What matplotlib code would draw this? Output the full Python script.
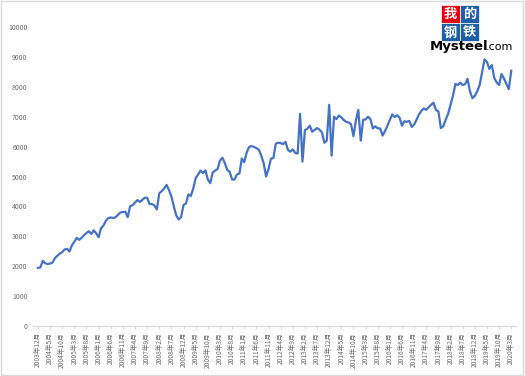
import numpy as np
import pandas as pd
import matplotlib
matplotlib.use('Agg')
import matplotlib.pyplot as plt
from matplotlib.patches import Rectangle

plt.rcParams['font.family'] = ['Noto Sans CJK SC', 'DejaVu Sans']

# 月度价格 2003年12月 - 2020年3月
start_month = '2003-12'
end_month = '2020-03'
values = [
    1940, 1960, 2180, 2100, 2070, 2090, 2120, 2270, 2350, 2420,
    2470, 2560, 2580, 2490, 2700, 2820, 2950, 2880, 2950, 3040,
    3110, 3170, 3080, 3200, 3100, 2970, 3270, 3360, 3520, 3610,
    3630, 3610, 3640, 3720, 3800, 3810, 3820, 3640, 4010, 4040,
    4130, 4210, 4150, 4220, 4290, 4290, 4080, 4080, 4030, 3900,
    4440, 4510, 4600, 4720, 4550, 4330, 4000, 3700, 3560, 3650,
    4050, 4100, 4400, 4350, 4600, 4950, 5070, 5200, 5110, 5210,
    4900, 4780, 5130, 5200, 5250, 5530, 5630, 5450, 5220, 5160,
    4900, 4900, 5070, 5100, 5600, 5480, 5800, 5990, 6020, 5990,
    5950, 5900, 5700, 5450, 5000, 5250, 5600, 5620, 6100, 6130,
    6120, 6080, 6160, 5890, 5830, 5910, 5790, 5770, 7100, 5500,
    6550, 6600, 6700, 6500, 6560, 6620, 6570, 6480, 6130, 6200,
    7400, 5700, 7000, 6920, 7040, 6980, 6890, 6830, 6810, 6750,
    6350, 6870, 7230, 6200, 6900, 6910, 7000, 6920, 6610, 6680,
    6610, 6610, 6370, 6520, 6700, 6900, 7080, 6990, 7050, 6970,
    6700, 6850, 6830, 6860, 6660, 6740, 6900, 7080, 7200, 7280,
    7230, 7320, 7400, 7470, 7220, 7180, 6620, 6680, 6900, 7100,
    7400, 7700, 8100, 8060, 8140, 8060, 8090, 8270, 7850, 7620,
    7700, 7850, 8060, 8500, 8920, 8830, 8600, 8730, 8300, 8150,
    8060, 8430, 8280, 8100, 7920, 8540,
]
y_ticks = [0, 1000, 2000, 3000, 4000, 5000, 6000, 7000, 8000, 9000, 10000]
label_step = 5

months = pd.period_range(start_month, end_month, freq='M')
labels = ['%d年%d月' % (m.year, m.month) for m in months]
x = np.arange(len(values))

fig = plt.figure(figsize=(5.25, 3.76), dpi=100)
ax = fig.add_axes([0.063, 0.133, 0.92, 0.795])

ax.plot(x, values, color='#4472C4', linewidth=1.6)

ax.set_ylim(0, 10000)
ax.set_xlim(-2, len(values) + 1)
ax.set_yticks(y_ticks)
ax.set_yticklabels([str(v) for v in y_ticks], fontsize=5, color='#6b6b6b')
tick_pos = x[::label_step]
ax.set_xticks(tick_pos)
ax.set_xticklabels([labels[i] for i in tick_pos], rotation=90, fontsize=4.8, color='#6b6b6b')

for s in ['top', 'right', 'left']:
    ax.spines[s].set_visible(False)
ax.spines['bottom'].set_color('#d9d9d9')
ax.spines['bottom'].set_linewidth(0.8)
ax.tick_params(axis='y', length=0, pad=4)
ax.tick_params(axis='x', length=2.5, color='#d9d9d9', pad=2)

# 外框
fig.patches.append(Rectangle((0.002, 0.003), 0.994, 0.994, transform=fig.transFigure,
                             fill=False, edgecolor='#d9d9d9', linewidth=1.0))

# Mysteel 标志 (方块 + 白字)
bw, bh = 0.036, 0.048
logo = [('我', 0.840, 0.938, '#e60012'), ('的', 0.876, 0.938, '#1f5fa8'),
        ('钢', 0.840, 0.890, '#1f5fa8'), ('铁', 0.876, 0.890, '#1f5fa8')]
for ch, lx, ly, c in logo:
    fig.patches.append(Rectangle((lx, ly), bw, bh, transform=fig.transFigure,
                                 facecolor=c, edgecolor='white', linewidth=0.5))
    fig.text(lx + bw / 2, ly + bh / 2, ch, fontsize=9.5, fontweight='bold', color='white',
             ha='center', va='center')
fig.text(0.818, 0.876, 'Mysteel', fontsize=9.5, fontweight='bold', color='black',
         ha='left', va='center', family=['DejaVu Sans'])
fig.text(0.925, 0.874, '.com', fontsize=8, color='black', ha='left', va='center',
         family=['DejaVu Sans'])

fig.savefig('out.png', dpi=100)
